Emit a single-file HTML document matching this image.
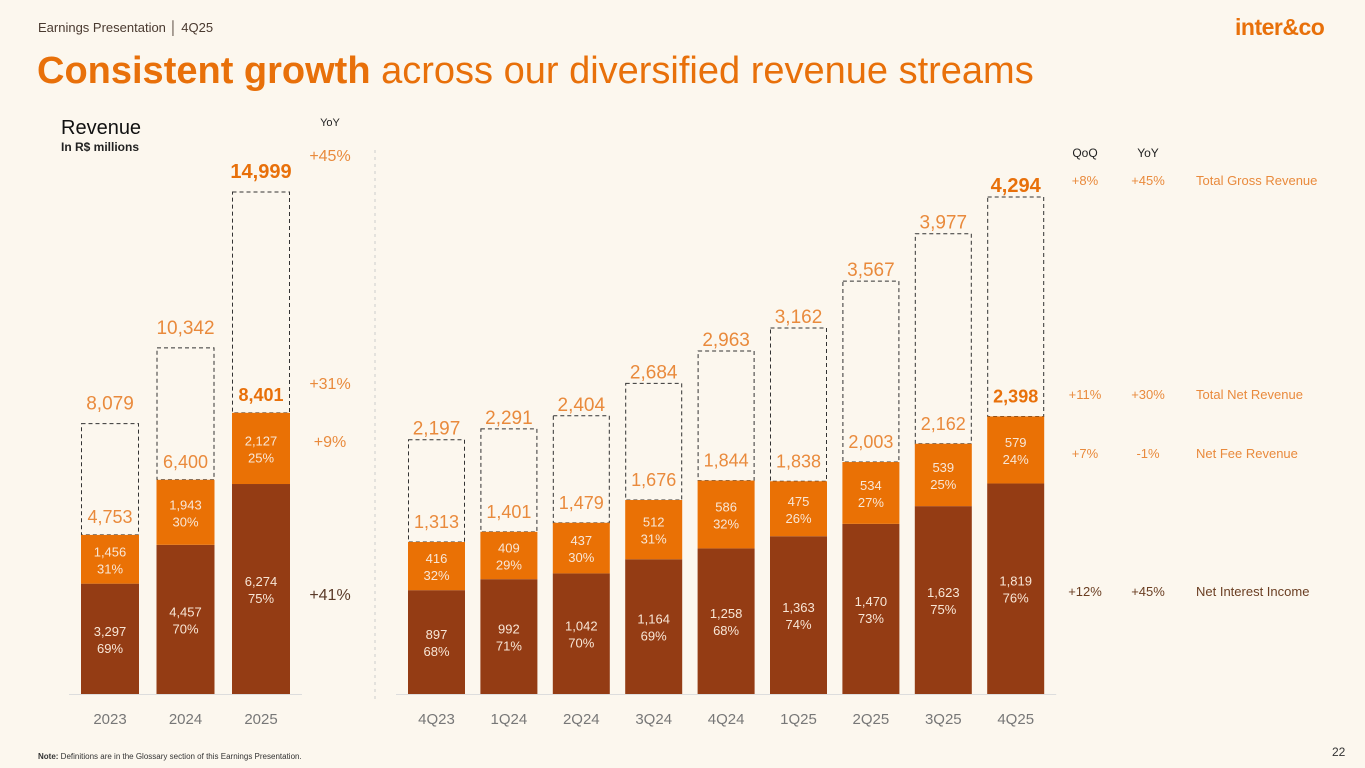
<!DOCTYPE html>
<html><head><meta charset="utf-8"><style>
body{margin:0;background:#fcf7ee;font-family:"Liberation Sans",sans-serif;}
#root{position:relative;width:1365px;height:768px;overflow:hidden;background:#fcf7ee;}
.t{position:absolute;white-space:nowrap;}
</style></head><body>
<div id="root">
<div class="t" style="left:38px;top:20px;font-size:13px;color:#4a3a30;">Earnings Presentation │ 4Q25</div>
<div class="t" style="left:1235px;top:14px;font-size:23px;font-weight:bold;color:#e8700a;letter-spacing:-0.5px;">inter&amp;co</div>
<div class="t" style="left:37px;top:50px;font-size:38px;color:#e8700a;letter-spacing:0px;"><b>Consistent growth</b> across our diversified revenue streams</div>
<div class="t" style="left:61px;top:117px;font-size:20px;color:#111;">Revenue</div>
<div class="t" style="left:61px;top:140px;font-size:12px;font-weight:bold;color:#222;">In R$ millions</div>
<div class="t" style="left:38px;top:752px;font-size:8px;color:#333;"><b>Note:</b> Definitions are in the Glossary section of this Earnings Presentation.</div>
<div class="t" style="left:1332px;top:745px;font-size:12px;color:#333;">22</div>
<svg id="chart" width="1365" height="768" style="position:absolute;left:0;top:0"></svg>
</div>
<script>
const annualCats=["2023","2024","2025"];
const annualNII=[3297,4457,6274];
const annualFee=[1456,1943,2127];
const annualNet=[4753,6400,8401];
const annualGross=[8079,10342,14999];
const annualNIIPct=["69%","70%","75%"];
const annualFeePct=["31%","30%","25%"];
const qCats=["4Q23","1Q24","2Q24","3Q24","4Q24","1Q25","2Q25","3Q25","4Q25"];
const qNII=[897,992,1042,1164,1258,1363,1470,1623,1819];
const qFee=[416,409,437,512,586,475,534,539,579];
const qNet=[1313,1401,1479,1676,1844,1838,2003,2162,2398];
const qGross=[2197,2291,2404,2684,2963,3162,3567,3977,4294];
const qNIIPct=["68%","71%","70%","69%","68%","74%","73%","75%","76%"];
const qFeePct=["32%","29%","30%","31%","32%","26%","27%","25%","24%"];
const annualYoY=["+45%","+31%","+9%","+41%"];
const legendNames=["Total Gross Revenue","Total Net Revenue","Net Fee Revenue","Net Interest Income"];
const legendQoQ=["+8%","+11%","+7%","+12%"];
const legendYoY=["+45%","+30%","-1%","+45%"];

const svg=document.getElementById('chart');
const NS="http://www.w3.org/2000/svg";
function mk(tag,attrs,name){const e=document.createElementNS(NS,tag);for(const k in attrs)e.setAttribute(k,attrs[k]);


svg.appendChild(e);return e;}
function txt(x,y,s,size,fill,name,weight,anchor){const e=mk('text',{x:x,y:y,'font-size':size,fill:fill,'text-anchor':anchor||'middle','font-family':'Liberation Sans, sans-serif','font-weight':weight||'normal'},name);e.textContent=s;return e;}
const fmt=v=>v.toLocaleString('en-US');
const BASE=694;
const BROWN="#943c14",ORANGE="#ea7105",LBL="#e98a3c",SEG="#f8e6d6";

function drawChart(cats,nii,fee,net,gross,niiP,feeP,x0,step,bw,scale,prefix,gap,netGap){
  const y=v=>BASE-v*scale;
  cats.forEach((c,i)=>{
    const x=x0+i*step,cx=x+bw/2,last=i===cats.length-1;
    mk('rect',{x:x+0.5,y:y(gross[i]),width:bw-1,height:y(nii[i]+fee[i])-y(gross[i]),fill:'none',stroke:'#333','stroke-width':1,'stroke-dasharray':'4,3'},prefix+'-gross-box-'+c);
    mk('rect',{x:x,y:y(nii[i]),width:bw,height:BASE-y(nii[i]),fill:BROWN},prefix+'-nii-bar-'+c);
    mk('rect',{x:x,y:y(nii[i]+fee[i]),width:bw,height:y(nii[i])-y(nii[i]+fee[i]),fill:ORANGE},prefix+'-fee-bar-'+c);
    const ym=(y(nii[i])+BASE)/2;
    txt(cx,ym-3,fmt(nii[i]),13,SEG,prefix+'-nii-label-'+c);
    txt(cx,ym+14,niiP[i],13,SEG,prefix+'-nii-pct-'+c);
    const yf=(y(nii[i])+y(nii[i]+fee[i]))/2;
    txt(cx,yf-3,fmt(fee[i]),13,SEG,prefix+'-fee-label-'+c);
    txt(cx,yf+14,feeP[i],13,SEG,prefix+'-fee-pct-'+c);
    txt(cx,y(net[i])-netGap,fmt(net[i]),18,last?'#e8700a':LBL,prefix+'-net-label-'+c,last?'bold':'normal');
    txt(cx,y(gross[i])-gap,fmt(gross[i]),last?20:19,last?'#e8700a':LBL,prefix+'-gross-label-'+c,last?'bold':'normal');
    txt(cx,724,c,15,'#777',prefix+'-x-label-'+c);
  });
  mk('line',{x1:x0-12,x2:x0+(cats.length-1)*step+bw+12,y1:BASE+0.5,y2:BASE+0.5,stroke:'#ddd'},prefix+'-baseline');
}
drawChart(annualCats,annualNII,annualFee,annualNet,annualGross,annualNIIPct,annualFeePct,81,75.5,58,502/14999,'annual',14,12);
drawChart(qCats,qNII,qFee,qNet,qGross,qNIIPct,qFeePct,408,72.4,57,497/4294,'quarterly',5,14);
mk('line',{x1:375,x2:375,y1:150,y2:700,stroke:'#ccc','stroke-dasharray':'3,4'},'chart-separator');
txt(330,126,"YoY",11,'#222','annual-yoy-header');
const ayY=[161,389,447,600],ayC=[LBL,LBL,LBL,'#5a3a28'];
annualYoY.forEach((s,i)=>txt(330,ayY[i],s,16,ayC[i],'annual-yoy-'+i));
txt(1085,157,"QoQ",12,'#222','qoq-header');
txt(1148,157,"YoY",12,'#222','yoy-header');
const lY=[185,399,458,596],lC=[LBL,LBL,LBL,'#6a3e22'];
legendNames.forEach((n,i)=>{
  txt(1085,lY[i],legendQoQ[i],13,lC[i],'legend-qoq-'+i);
  txt(1148,lY[i],legendYoY[i],13,lC[i],'legend-yoy-'+i);
  txt(1196,lY[i],n,13,lC[i],'legend-name-'+i,'normal','start');
});
</script>
</body></html>
